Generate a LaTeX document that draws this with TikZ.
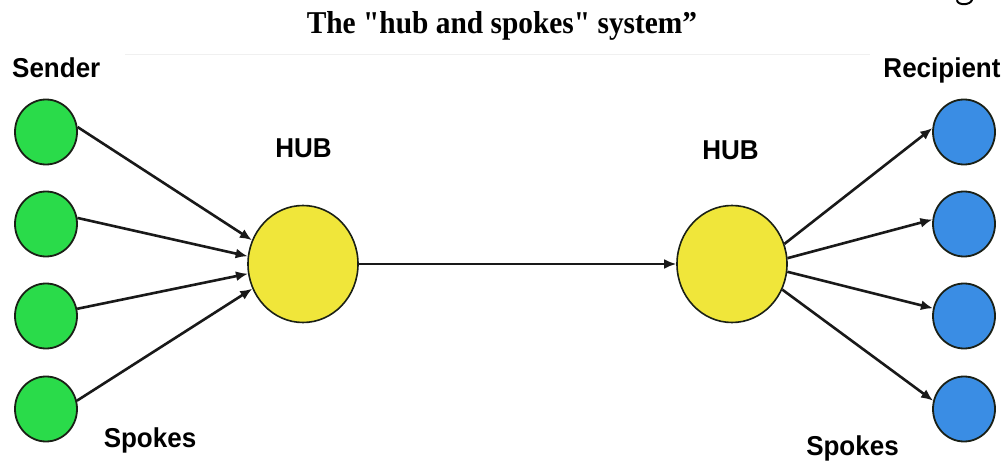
\documentclass[tikz,border=0pt]{standalone}
\usepackage{fontspec}
\setmainfont{Liberation Serif}
\newfontfamily\titleserif{Liberation Serif}[Ligatures=TeXOff]
\newfontfamily\labelsans{Liberation Sans}
\usetikzlibrary{arrows.meta,shapes.geometric}

\definecolor{sendergreen}{HTML}{2ADB4A}
\definecolor{recipblue}{HTML}{3A8DE4}
\definecolor{hubyellow}{HTML}{F0E63A}
\definecolor{rimline}{HTML}{1A2016}

\begin{document}
\begin{tikzpicture}[x=1pt,y=-1pt,
  endpt/.style={ellipse, draw=rimline, line width=1.8pt,
    minimum width=62pt, minimum height=65pt, inner sep=0pt},
  hubnode/.style={ellipse, draw=rimline, line width=1.6pt, fill=hubyellow,
    minimum width=110pt, minimum height=117pt, inner sep=0pt},
  spoke/.style={line width=2.6pt, draw=black!90,
    -{Latex[length=12pt,width=10pt]}},
  lbl/.style={font=\labelsans\bfseries\fontsize{26}{30}\selectfont,
    inner sep=0pt, anchor=base, yscale=1.05, transform shape},
]
\useasboundingbox (0,0) rectangle (1004,462);
\fill[white] (0,0) rectangle (1004,462);

% tail of a letter from the line above
\draw[line width=2pt, line cap=round] (957,0.5) .. controls (958,5.5) and (970,5.5) .. (972,0);

% title
\node[font=\titleserif\bfseries\fontsize{29.4}{34}\selectfont, inner sep=0pt, anchor=base,
  yscale=1.08, transform shape]
  (title) at (502,34) {The "hub and spokes" system”};

% faint top edge of the figure panel
\draw[gray!12, line width=1pt] (125,55) -- (870,55);

% senders
\node[endpt, fill=sendergreen] (s1) at (46,132) {};
\node[endpt, fill=sendergreen] (s2) at (46,224) {};
\node[endpt, fill=sendergreen] (s3) at (46,316) {};
\node[endpt, fill=sendergreen] (s4) at (46,409) {};

% recipients
\node[endpt, fill=recipblue] (r1) at (964,132) {};
\node[endpt, fill=recipblue] (r2) at (964,224) {};
\node[endpt, fill=recipblue] (r3) at (964,316) {};
\node[endpt, fill=recipblue] (r4) at (964,409) {};

% hubs
\node[hubnode] (hl) at (303,264) {};
\node[hubnode] (hr) at (732,264) {};

% labels
\node[lbl, anchor=base west] (sender) at (12,78) {Sender};
\node[lbl] (hubl) at (303.5,158) {HUB};
\node[lbl] (hubr) at (730.5,160) {HUB};
\node[lbl] (recip) at (942,78) {Recipient};
\node[lbl] (spokesl) at (150,447) {Spokes};
\node[lbl] (spokesr) at (852.5,455) {Spokes};

% spokes into the first hub
\draw[spoke] (s1.9)  -- (hl.155);
\draw[spoke] (s2.11) -- (hl.172);
\draw[spoke] (s3.13) -- (hl.190);
\draw[spoke] (s4.15) -- (hl.206);

% hub to hub
\draw[spoke] (hl.east) -- (hr.west);

% spokes out of the second hub
\draw[spoke] (hr.21)  -- (r1.173);
\draw[spoke] (hr.6)   -- (r2.172);
\draw[spoke] (hr.-8)  -- (r3.166);
\draw[spoke] (hr.-27) -- (r4.165);
\end{tikzpicture}
\end{document}
